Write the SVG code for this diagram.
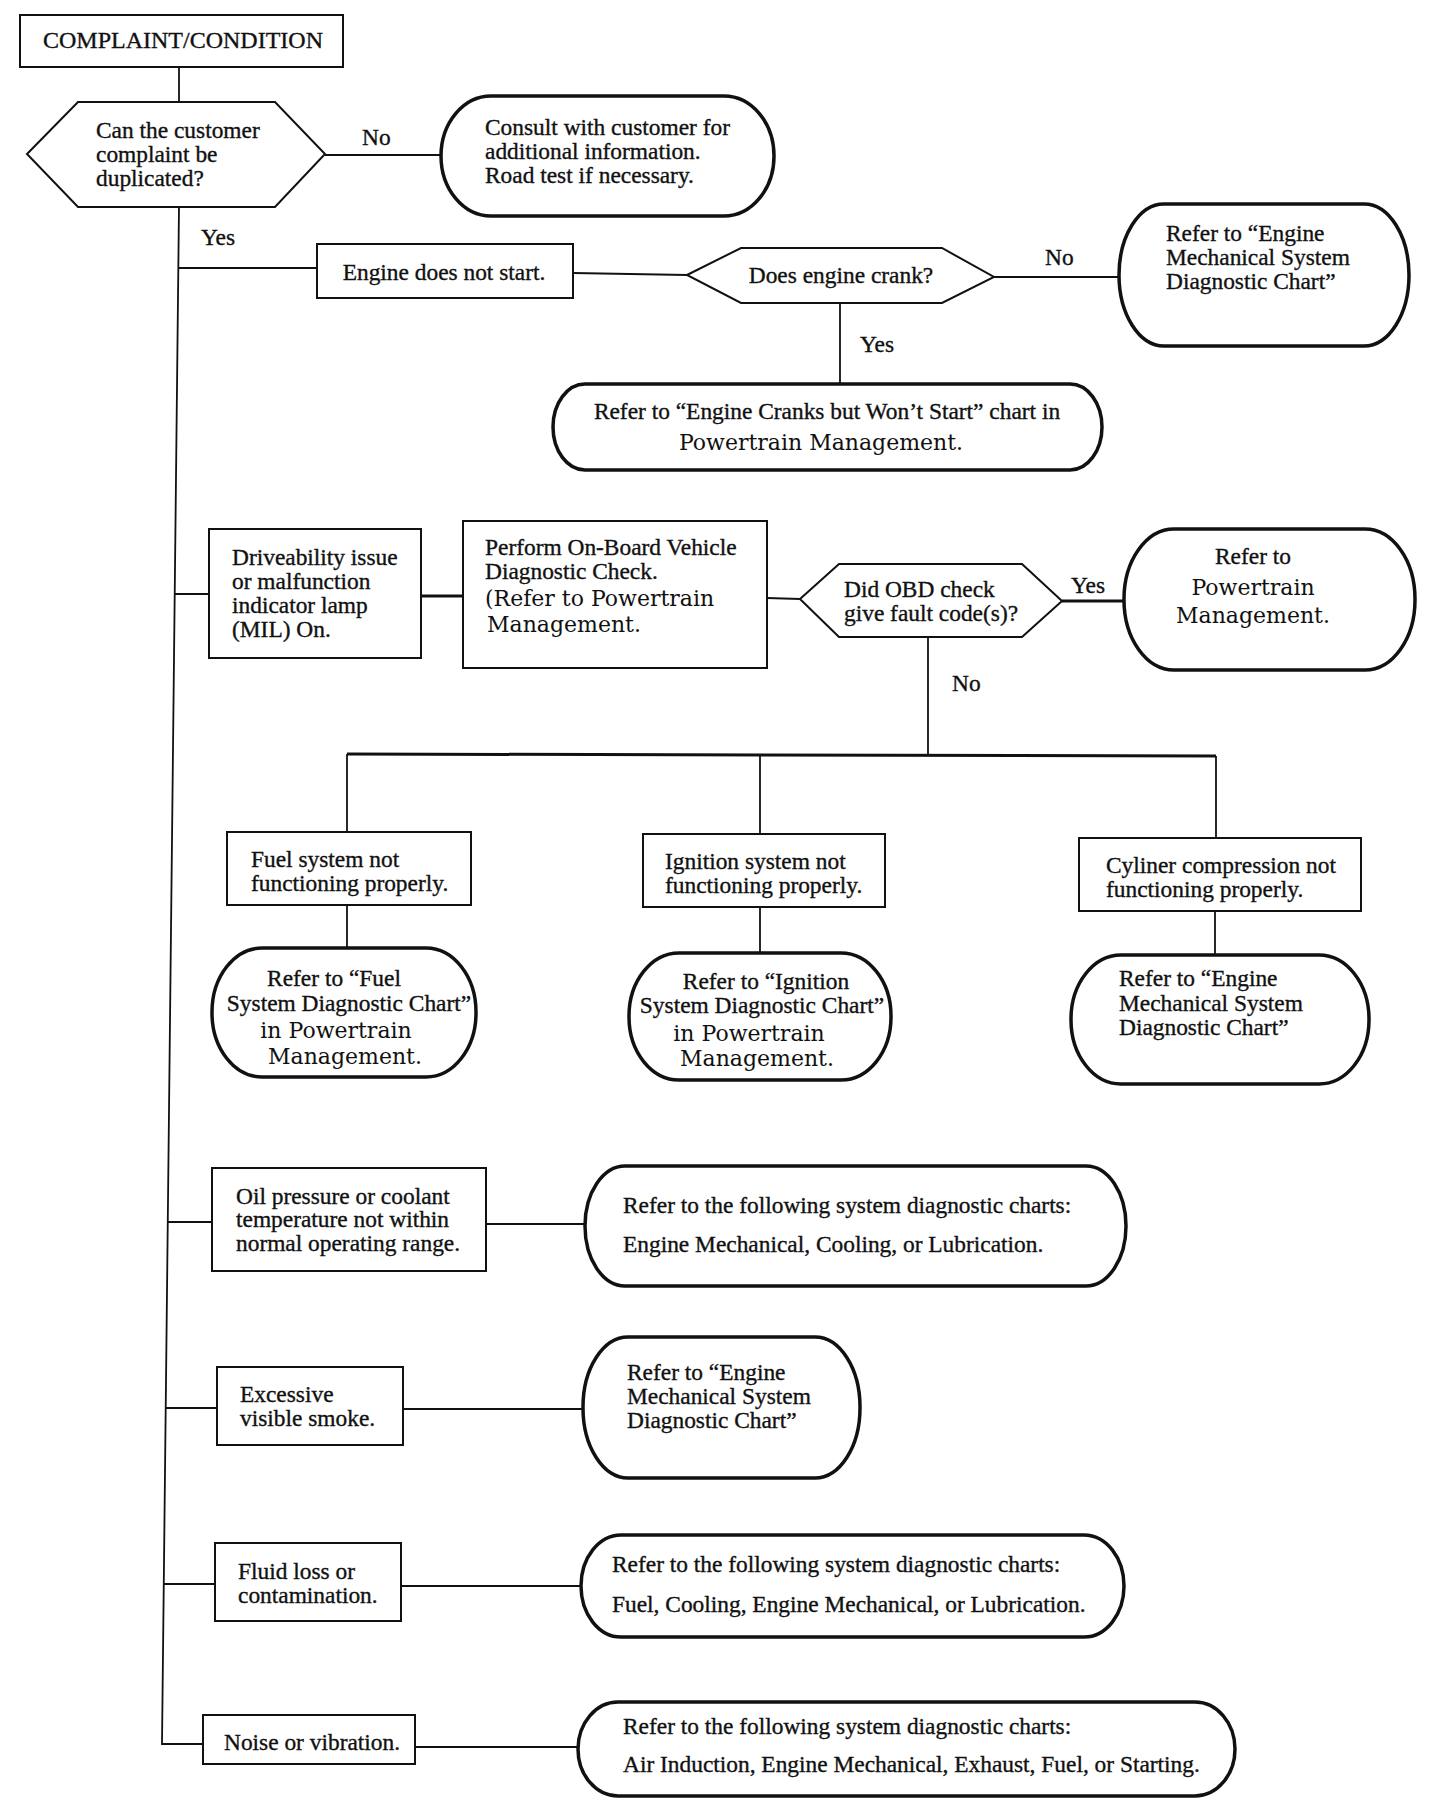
<svg xmlns="http://www.w3.org/2000/svg" width="1440" height="1820" viewBox="0 0 1440 1820">
<style>
.bg{fill:#fff}
.box{fill:#fff;stroke:#111;stroke-width:2}
.hex{fill:#fff;stroke:#111;stroke-width:2}
.ov{fill:#fff;stroke:#111;stroke-width:3.5}
.ln{stroke:#111;stroke-width:1.8;fill:none}
.lnb{stroke:#111;stroke-width:3;fill:none}
text{font-family:"Liberation Serif","Times New Roman",serif;font-size:23.4px;fill:#111;stroke:#111;stroke-width:0.35}
.alt{font-family:"DejaVu Serif","Liberation Serif",serif;font-size:22px;stroke-width:0}
.c{text-anchor:middle}
.cap{font-size:24px}
</style>
<rect class="bg" x="0" y="0" width="1440" height="1820"/>
<g id="connectors">
<line class="ln" x1="179" y1="67" x2="179" y2="102"/>
<polyline class="ln" points="179,207 162,1744 203,1744"/>
<line class="ln" x1="325" y1="155" x2="441" y2="155"/>
<line class="ln" x1="178" y1="268" x2="317" y2="268"/>
<line class="ln" x1="573" y1="273" x2="687" y2="275"/>
<line class="ln" x1="994" y1="277" x2="1119" y2="277"/>
<line class="ln" x1="840" y1="303" x2="840" y2="384"/>
<line class="ln" x1="175" y1="594" x2="209" y2="594"/>
<line class="lnb" x1="421" y1="596" x2="463" y2="596"/>
<line class="ln" x1="767" y1="598" x2="800" y2="599"/>
<line class="lnb" x1="1062" y1="601" x2="1124" y2="601"/>
<line class="ln" x1="928" y1="637" x2="928" y2="755"/>
<line class="lnb" x1="347" y1="754" x2="1216" y2="756"/>
<line class="ln" x1="347" y1="754" x2="347" y2="832"/>
<line class="ln" x1="347" y1="905" x2="347" y2="948"/>
<line class="ln" x1="760" y1="755" x2="760" y2="834"/>
<line class="ln" x1="760" y1="907" x2="760" y2="953"/>
<line class="ln" x1="1216" y1="756" x2="1216" y2="838"/>
<line class="ln" x1="1215" y1="911" x2="1215" y2="955"/>
<line class="ln" x1="168" y1="1222" x2="212" y2="1222"/>
<line class="ln" x1="486" y1="1224" x2="585" y2="1224"/>
<line class="ln" x1="166" y1="1408" x2="217" y2="1408"/>
<line class="ln" x1="403" y1="1409" x2="583" y2="1409"/>
<line class="ln" x1="164" y1="1584" x2="215" y2="1584"/>
<line class="ln" x1="401" y1="1586" x2="581" y2="1586"/>
<line class="ln" x1="415" y1="1747" x2="578" y2="1747"/>
</g>
<g id="labels">
<text x="362" y="145">No</text>
<text x="201" y="245">Yes</text>
<text x="1045" y="265">No</text>
<text x="860" y="352">Yes</text>
<text x="1071" y="593">Yes</text>
<text x="952" y="691">No</text>
</g>
<g id="n-complaint">
<rect class="box" x="20" y="15" width="323" height="52"/>
<text class="c cap" x="183" y="48">COMPLAINT/CONDITION</text>
</g>
<g id="n-duplicate">
<polygon class="hex" points="27,154 78,102 275,102 325,154 275,207 78,207"/>
<text x="96" y="138">Can the customer</text>
<text x="96" y="162">complaint be</text>
<text x="96" y="186">duplicated?</text>
</g>
<g id="n-consult">
<rect class="ov" x="441" y="96" width="333" height="120" rx="50" ry="60"/>
<text x="485" y="135">Consult with customer for</text>
<text x="485" y="159">additional information.</text>
<text x="485" y="183">Road test if necessary.</text>
</g>
<g id="n-nostart">
<rect class="box" x="317" y="244" width="256" height="54"/>
<text class="c" x="444" y="280">Engine does not start.</text>
</g>
<g id="n-crank">
<polygon class="hex" points="687,275 741,248 942,248 994,277 942,303 741,303"/>
<text class="c" x="841" y="283">Does engine crank?</text>
</g>
<g id="n-mech1">
<rect class="ov" x="1119" y="204" width="290" height="142" rx="45" ry="71"/>
<text x="1166" y="241">Refer to “Engine</text>
<text x="1166" y="265">Mechanical System</text>
<text x="1166" y="289">Diagnostic Chart”</text>
</g>
<g id="n-cranks">
<rect class="ov" x="553" y="384" width="549" height="86" rx="32" ry="43"/>
<text class="c" x="827" y="419">Refer to “Engine Cranks but Won’t Start” chart in</text>
<text class="c alt" x="821" y="450">Powertrain Management.</text>
</g>
<g id="n-drive">
<rect class="box" x="209" y="529" width="212" height="129"/>
<text x="232" y="565">Driveability issue</text>
<text x="232" y="589">or malfunction</text>
<text x="232" y="613">indicator lamp</text>
<text x="232" y="637">(MIL) On.</text>
</g>
<g id="n-obdcheck">
<rect class="box" x="463" y="521" width="304" height="147"/>
<text x="485" y="555">Perform On-Board Vehicle</text>
<text x="485" y="579">Diagnostic Check.</text>
<text class="alt" x="485" y="606">(Refer to Powertrain</text>
<text class="alt" x="487" y="632">Management.</text>
</g>
<g id="n-fault">
<polygon class="hex" points="800,599 839,564 1022,564 1062,601 1022,637 839,637"/>
<text x="844" y="597">Did OBD check</text>
<text x="844" y="621">give fault code(s)?</text>
</g>
<g id="n-ptm">
<rect class="ov" x="1124" y="529" width="291" height="141" rx="50" ry="70"/>
<text class="c" x="1253" y="564">Refer to</text>
<text class="c alt" x="1253" y="595">Powertrain</text>
<text class="c alt" x="1253" y="623">Management.</text>
</g>
<g id="n-fuel">
<rect class="box" x="227" y="832" width="244" height="73"/>
<text x="251" y="867">Fuel system not</text>
<text x="251" y="891">functioning properly.</text>
</g>
<g id="n-fuelref">
<rect class="ov" x="212" y="948" width="264" height="129" rx="50" ry="64"/>
<text class="c" x="334" y="986">Refer to “Fuel</text>
<text class="c" x="349" y="1011">System Diagnostic Chart”</text>
<text class="c alt" x="336" y="1038">in Powertrain</text>
<text class="c alt" x="345" y="1064">Management.</text>
</g>
<g id="n-ign">
<rect class="box" x="643" y="834" width="242" height="73"/>
<text x="665" y="869">Ignition system not</text>
<text x="665" y="893">functioning properly.</text>
</g>
<g id="n-ignref">
<rect class="ov" x="629" y="953" width="262" height="127" rx="50" ry="63"/>
<text class="c" x="766" y="989">Refer to “Ignition</text>
<text class="c" x="762" y="1013">System Diagnostic Chart”</text>
<text class="c alt" x="749" y="1041">in Powertrain</text>
<text class="c alt" x="757" y="1066">Management.</text>
</g>
<g id="n-cyl">
<rect class="box" x="1079" y="838" width="282" height="73"/>
<text x="1106" y="873">Cyliner compression not</text>
<text x="1106" y="897">functioning properly.</text>
</g>
<g id="n-cylref">
<rect class="ov" x="1071" y="955" width="298" height="129" rx="50" ry="64"/>
<text x="1119" y="986">Refer to “Engine</text>
<text x="1119" y="1011">Mechanical System</text>
<text x="1119" y="1035">Diagnostic Chart”</text>
</g>
<g id="n-oil">
<rect class="box" x="212" y="1168" width="274" height="103"/>
<text x="236" y="1204">Oil pressure or coolant</text>
<text x="236" y="1227">temperature not within</text>
<text x="236" y="1251">normal operating range.</text>
</g>
<g id="n-oilref">
<rect class="ov" x="585" y="1166" width="541" height="120" rx="40" ry="60"/>
<text x="623" y="1213">Refer to the following system diagnostic charts:</text>
<text x="623" y="1252">Engine Mechanical, Cooling, or Lubrication.</text>
</g>
<g id="n-smoke">
<rect class="box" x="217" y="1367" width="186" height="78"/>
<text x="240" y="1402">Excessive</text>
<text x="240" y="1426">visible smoke.</text>
</g>
<g id="n-smokeref">
<rect class="ov" x="583" y="1337" width="277" height="141" rx="45" ry="70"/>
<text x="627" y="1380">Refer to “Engine</text>
<text x="627" y="1404">Mechanical System</text>
<text x="627" y="1428">Diagnostic Chart”</text>
</g>
<g id="n-fluid">
<rect class="box" x="215" y="1543" width="186" height="78"/>
<text x="238" y="1579">Fluid loss or</text>
<text x="238" y="1603">contamination.</text>
</g>
<g id="n-fluidref">
<rect class="ov" x="581" y="1535" width="543" height="102" rx="40" ry="51"/>
<text x="612" y="1572">Refer to the following system diagnostic charts:</text>
<text x="612" y="1612">Fuel, Cooling, Engine Mechanical, or Lubrication.</text>
</g>
<g id="n-noise">
<rect class="box" x="203" y="1715" width="212" height="49"/>
<text x="224" y="1750">Noise or vibration.</text>
</g>
<g id="n-noiseref">
<rect class="ov" x="578" y="1702" width="657" height="94" rx="40" ry="47"/>
<text x="623" y="1734">Refer to the following system diagnostic charts:</text>
<text x="623" y="1772">Air Induction, Engine Mechanical, Exhaust, Fuel, or Starting.</text>
</g>
</svg>
